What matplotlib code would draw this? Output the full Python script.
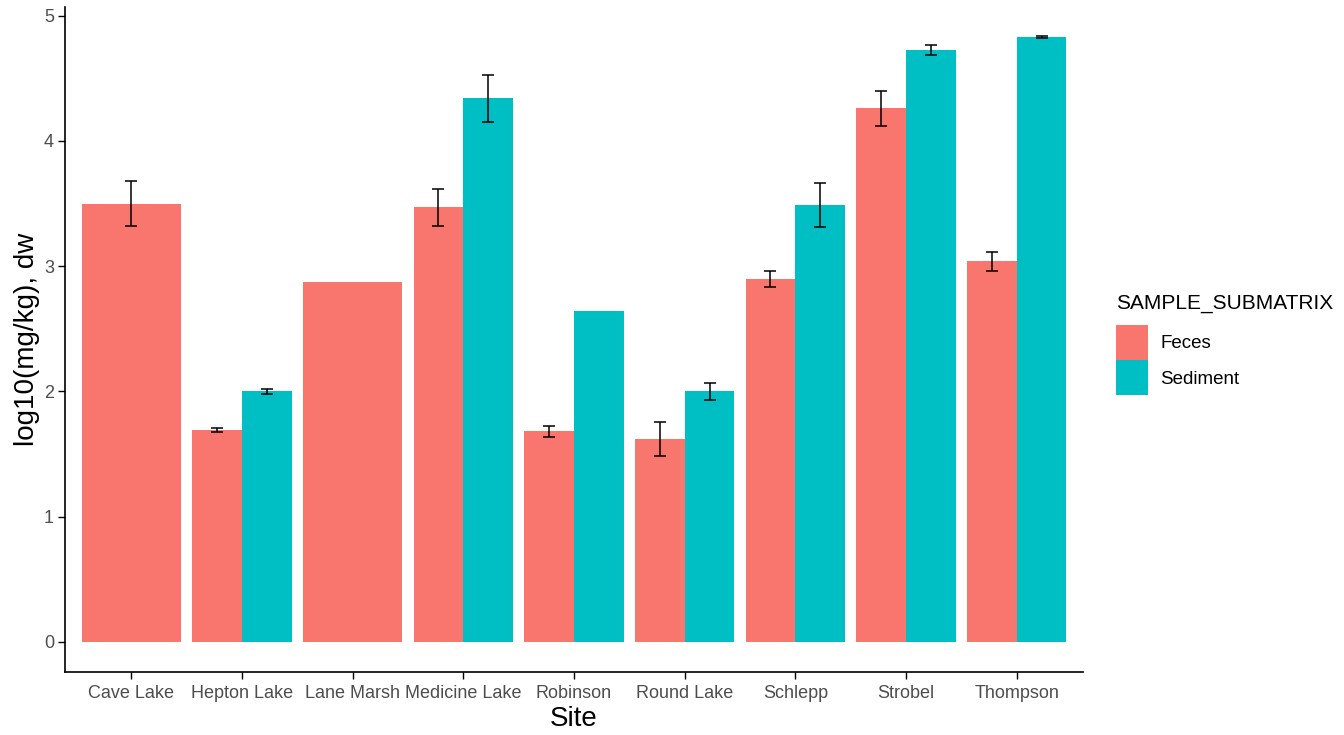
import numpy as np
import matplotlib.pyplot as plt

plt.rcParams["font.family"] = ["Liberation Sans", "DejaVu Sans"]

sites = ["Cave Lake", "Hepton Lake", "Lane Marsh", "Medicine Lake", "Robinson",
         "Round Lake", "Schlepp", "Strobel", "Thompson"]
feces = [3.50, 1.69, 2.87, 3.47, 1.68, 1.62, 2.90, 4.26, 3.04]
feces_err = [0.18, 0.015, 0.0, 0.15, 0.045, 0.135, 0.065, 0.14, 0.075]
sediment = [np.nan, 2.00, np.nan, 4.34, 2.64, 2.00, 3.49, 4.73, 4.83]
sediment_err = [np.nan, 0.02, 0.0, 0.19, 0.0, 0.07, 0.175, 0.04, 0.005]

red = "#F8766D"
teal = "#00BFC4"

fig = plt.figure(figsize=(13.44, 7.35), dpi=100)
ax = fig.add_axes([65 / 1344, 1 - 672 / 735, (1083 - 65) / 1344, (672 - 7) / 735])

x = np.arange(1, len(sites) + 1)
w = 0.9
for i, xi in enumerate(x):
    has_sed = not np.isnan(sediment[i])
    if has_sed:
        xf, xs, bw = xi - w / 4, xi + w / 4, w / 2
    else:
        xf, bw = xi, w
    ax.bar(xf, feces[i], width=bw, color=red, label="Feces" if i == 0 else None)
    if feces_err[i] > 0:
        ax.errorbar(xf, feces[i], yerr=feces_err[i], fmt="none", ecolor="black",
                    elinewidth=1.1, capsize=4.5, capthick=1.1)
    if has_sed:
        ax.bar(xs, sediment[i], width=bw, color=teal, label="Sediment" if i == 1 else None)
        if sediment_err[i] > 0:
            ax.errorbar(xs, sediment[i], yerr=sediment_err[i], fmt="none", ecolor="black",
                        elinewidth=1.1, capsize=4.5, capthick=1.1)

ax.set_xlim(0.4, 9.6)
ax.set_ylim(-0.242, 5.07)
ax.set_xticks(x)
ax.set_xticklabels(sites)
ax.set_yticks([0, 1, 2, 3, 4, 5])
ax.tick_params(colors="black", labelcolor="#4D4D4D", labelsize=13, length=5, width=1, pad=3)
ax.tick_params(axis="x", pad=4.5)
for s in ["top", "right"]:
    ax.spines[s].set_visible(False)
for s in ["left", "bottom"]:
    ax.spines[s].set_linewidth(1.2)
ax.set_xlabel("Site", fontsize=20, labelpad=3)
ax.set_ylabel("log10(mg/kg), dw", fontsize=20, labelpad=3)

leg = ax.legend(title="SAMPLE_SUBMATRIX", loc="center left", bbox_to_anchor=(1.016, 0.492),
                frameon=False, fontsize=13.5, title_fontsize=15, handlelength=1.7,
                handleheight=2.49, handletextpad=0.64, labelspacing=0.05)
leg._legend_box.align = "left"
leg._legend_box.sep = 8

fig.savefig("out.png", dpi=100)
